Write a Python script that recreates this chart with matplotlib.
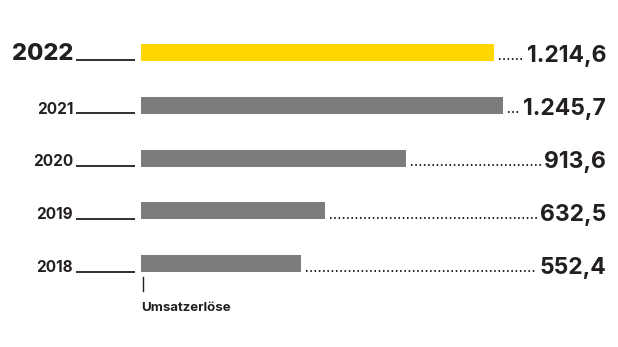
import matplotlib.pyplot as plt

plt.rcParams["font.family"] = ["Inter", "DejaVu Sans"]

years = ["2022", "2021", "2020", "2019", "2018"]
umsatz = [1214.6, 1245.7, 913.6, 632.5, 552.4]
wert_labels = ["1.214,6", "1.245,7", "913,6", "632,5", "552,4"]
farben = ["#ffd600", "#7b7d7d", "#7b7d7d", "#7b7d7d", "#7b7d7d"]

dunkel = "#231f20"
px = 0.2905  # Pixel je Einheit
W, H = 618, 347

fig = plt.figure(figsize=(W / 100, H / 100), dpi=100)
ax = fig.add_axes([0, 0, 1, 1])
ax.set_xlim(-141 / px, (W - 141) / px)
ax.set_ylim((H - 52) / 53, -52 / 53)
ax.axis("off")

bar_h = 17 / 53
ax.barh(range(len(years)), umsatz, height=bar_h, color=farben, left=0)

# Jahreszahlen mit Linie
x_links = -65 / px
x_rechts = -6 / px
for i, jahr in enumerate(years):
    y_unten = i + bar_h / 2
    gross = i == 0
    ax.text(x_links - 3 / px, y_unten, jahr, ha="right", va="baseline",
            fontsize=17 if gross else 11, fontweight="heavy" if gross else "bold",
            color=dunkel)
    ax.plot([x_links, x_rechts], [y_unten - 0.01, y_unten - 0.01], color=dunkel, lw=1.3,
            solid_capstyle="butt")

# Werte rechts mit Punktlinie
texte = []
for i, lab in enumerate(wert_labels):
    y_unten = i + bar_h / 2
    t = ax.text((606 - 141) / px, y_unten + 0.02, lab, ha="right", va="baseline",
                fontsize=16.5, fontweight="bold", color=dunkel)
    texte.append(t)

fig.canvas.draw()
inv = ax.transData.inverted()
for i, t in enumerate(texte):
    bb = t.get_window_extent()
    x_start = inv.transform((bb.x0 - 3, 0))[0]
    y_unten = i + bar_h / 2
    ax.plot([umsatz[i] + 5 / px, x_start], [y_unten - 0.02, y_unten - 0.02], color=dunkel,
            lw=1.4, linestyle=(0, (0.8, 1.4)), dash_capstyle="butt")

# Achsenbeschriftung
ax.plot([2 / px, 2 / px], [4 + 13 / 53, 4 + 27 / 53], color=dunkel, lw=1)
ax.text(0, 4 + 44 / 53, "Umsatzerlöse", ha="left", va="center",
        fontsize=9.5, fontweight="bold", color=dunkel)

fig.savefig("out.png", dpi=100)
